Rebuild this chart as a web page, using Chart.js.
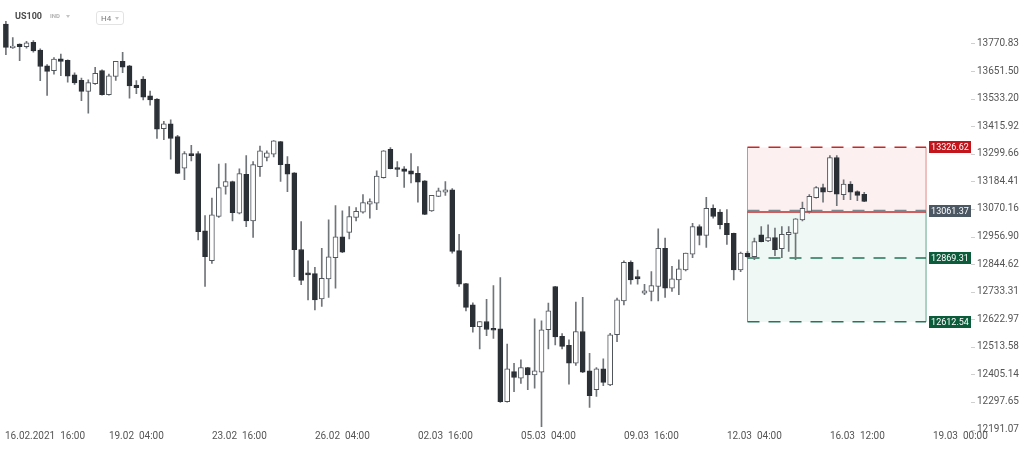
<!DOCTYPE html>
<html>
<head>
<meta charset="utf-8">
<title>US100 H4</title>
<script src="https://cdn.jsdelivr.net/npm/chart.js@4.4.1/dist/chart.umd.min.js"></script>
<style>
  html, body { margin: 0; padding: 0; background: #fff; }
  .wrap { position: relative; width: 1024px; height: 450px; font-family: Roboto, 'Noto Sans', sans-serif; }
  canvas { display: block; }
  .sym { position: absolute; left: 15px; top: 10px; font-size: 9px; font-weight: 700; color: #4a4a4a; line-height: 12px; }
  .ind { position: absolute; left: 50px; top: 12px; font-size: 6px; font-weight: 700; color: #b3b3b3; line-height: 8px; }
  .caret { position: absolute; width: 0; height: 0; border-left: 2.5px solid transparent; border-right: 2.5px solid transparent; border-top: 3px solid #c4c4c4; }
  .tf { position: absolute; left: 96px; top: 11px; width: 28px; height: 14px; box-sizing: border-box; border: 1px solid #e3e3e3; border-radius: 3px; }
  .tf span { position: absolute; left: 4px; top: 1px; font-size: 8px; color: #777; line-height: 11px; }
</style>
</head>
<body>
<div class="wrap">
  <canvas id="chart" width="1024" height="450"></canvas>
  <div class="sym">US100</div>
  <div class="ind">IND</div>
  <div class="caret" style="left:66px;top:15px"></div>
  <div class="tf"><span>H4</span><div class="caret" style="left:18px;top:5px"></div></div>
</div>
<script>
// candles, oldest first (H4)
const opens = [13855, 13752, 13768, 13757, 13776, 13742, 13674, 13653, 13704, 13698,
  13635, 13612, 13564, 13597, 13654, 13550, 13628, 13693, 13674, 13591,
  13617, 13545, 13531, 13406, 13426, 13372, 13239, 13301, 13301, 12980,
  12858, 13039, 13163, 13184, 13053, 13214, 13021, 13246, 13284, 13298,
  13351, 13256, 13220, 12904, 12809, 12806, 12704, 12785, 12871, 12956,
  12974, 13035, 13057, 13090, 13094, 13200, 13318, 13242, 13237, 13228,
  13218, 13187, 13062, 13122, 13139, 13149, 12899, 12766, 12680, 12593,
  12614, 12587, 12585, 12299, 12416, 12390, 12432, 12403, 12414, 12581,
  12754, 12555, 12519, 12449, 12574, 12419, 12345, 12427, 12364, 12562,
  12696, 12852, 12794, 12727, 12734, 12754, 12909, 12747, 12781, 12821,
  12885, 12998, 12961, 13073, 13057, 13011, 12970, 12821, 12889, 12875,
  12964, 12939, 12953, 12907, 12964, 12970, 13025, 13060, 13117, 13159,
  13142, 13284, 13129, 13173, 13142, 13131];
const highs = [13867, 13797, 13769, 13780, 13783, 13748, 13679, 13710, 13725, 13700,
  13644, 13621, 13614, 13668, 13657, 13639, 13694, 13732, 13676, 13611,
  13628, 13565, 13533, 13437, 13443, 13377, 13309, 13335, 13309, 13043,
  13115, 13256, 13259, 13186, 13237, 13292, 13267, 13332, 13312, 13355,
  13352, 13288, 13221, 13018, 12858, 12831, 12909, 13025, 13084, 13062,
  13080, 13076, 13129, 13112, 13228, 13313, 13326, 13267, 13246, 13301,
  13246, 13188, 13126, 13156, 13184, 13154, 12966, 12767, 12688, 12614,
  12702, 12758, 12790, 12524, 12448, 12462, 12433, 12625, 12617, 12687,
  12755, 12566, 12541, 12691, 12710, 12488, 12432, 12466, 12567, 12707,
  12858, 12858, 12820, 12763, 12814, 12988, 12950, 12835, 12862, 12889,
  13011, 13005, 13118, 13087, 13067, 13067, 12971, 12893, 12896, 12950,
  12998, 13005, 12991, 12998, 12998, 13030, 13098, 13129, 13163, 13173,
  13292, 13292, 13191, 13184, 13145, 13139];
const lows = [13722, 13749, 13696, 13751, 13733, 13610, 13547, 13638, 13632, 13604,
  13594, 13524, 13471, 13594, 13548, 13548, 13611, 13645, 13535, 13554,
  13528, 13505, 13364, 13359, 13277, 13216, 13191, 13270, 12943, 12754,
  12847, 13035, 13131, 13021, 13050, 12997, 12953, 13205, 13270, 13287,
  13184, 13142, 12794, 12761, 12700, 12660, 12674, 12710, 12747, 12891,
  12947, 13021, 13053, 13032, 13067, 13198, 13236, 13204, 13159, 13178,
  13098, 13046, 13060, 13121, 13126, 12889, 12754, 12656, 12571, 12505,
  12558, 12547, 12296, 12297, 12338, 12370, 12345, 12351, 12202, 12505,
  12521, 12505, 12367, 12440, 12412, 12276, 12319, 12361, 12361, 12534,
  12680, 12763, 12763, 12721, 12696, 12696, 12710, 12734, 12721, 12817,
  12871, 12923, 12912, 13032, 12988, 12925, 12781, 12814, 12871, 12862,
  12935, 12936, 12879, 12871, 12896, 12862, 13021, 13053, 13115, 13098,
  13141, 13084, 13108, 13108, 13104, 13100];
const closes = [13754, 13760, 13757, 13774, 13739, 13671, 13650, 13703, 13693, 13629,
  13601, 13564, 13602, 13642, 13550, 13631, 13693, 13668, 13588, 13580,
  13539, 13528, 13403, 13426, 13364, 13218, 13301, 13292, 12977, 12875,
  13046, 13159, 13184, 13055, 13217, 13021, 13254, 13312, 13304, 13354,
  13254, 13214, 12903, 12779, 12801, 12700, 12787, 12874, 12956, 12893,
  13039, 13060, 13096, 13101, 13206, 13312, 13237, 13234, 13226, 13214,
  13181, 13048, 13126, 13145, 13149, 12896, 12763, 12670, 12593, 12614,
  12582, 12579, 12299, 12427, 12393, 12432, 12403, 12419, 12581, 12656,
  12553, 12515, 12449, 12574, 12414, 12322, 12427, 12374, 12561, 12700,
  12852, 12781, 12785, 12737, 12758, 12909, 12747, 12785, 12825, 12889,
  12998, 12961, 13073, 13039, 13005, 12964, 12821, 12889, 12875, 12936,
  12936, 12953, 12903, 12966, 12974, 13029, 13073, 13122, 13159, 13139,
  13284, 13131, 13173, 13139, 13126, 13101];

// time axis: one slot per bar, a label every 15 bars
const slotCount = 134;
const xTickText = ['16.02.2021  16:00', '19.02  04:00', '23.02  16:00', '26.02  04:00', '02.03  16:00',
  '05.03  04:00', '09.03  16:00', '12.03  04:00', '16.03  12:00', '19.03  00:00'];
const xTickAt = [4, 19, 34, 49, 64, 79, 94, 109, 124, 139];

// price axis
const yTicks = [13770.83, 13651.50, 13533.20, 13415.92, 13299.66, 13184.41, 13070.16, 12956.90,
  12844.62, 12733.31, 12622.97, 12513.58, 12405.14, 12297.65, 12191.07];
const yMin = 12189.2;
const yMax = 13961.2;

// position tool: take profit, entry, stop, target
const levelValues = [13326.62, 13061.37, 12869.31, 12612.54];
const levelColors = ['#c2161c', '#4b5763', '#0c5c3c', '#0c5c3c'];
const zoneFrom = 108;
const zoneTo = 134;

const up = closes.map((c, i) => c >= opens[i]);
const bodyFill = up.map(u => u ? '#ffffff' : '#2b3036');
const bodyLine = up.map(u => u ? '#50565c' : '#2b3036');

function hLine(ctx, x0, x1, y, color, width, dash) {
  ctx.save();
  ctx.strokeStyle = color;
  ctx.lineWidth = width;
  ctx.setLineDash(dash || []);
  ctx.beginPath();
  ctx.moveTo(x0, y);
  ctx.lineTo(x1, y);
  ctx.stroke();
  ctx.restore();
}

function vLine(ctx, x, y0, y1, color) {
  ctx.save();
  ctx.strokeStyle = color;
  ctx.lineWidth = 1;
  ctx.beginPath();
  ctx.moveTo(x, y0);
  ctx.lineTo(x, y1);
  ctx.stroke();
  ctx.restore();
}

const overlay = {
  id: 'overlay',
  beforeDatasetsDraw(chart) {
    const {ctx} = chart;
    const x = chart.scales.x, y = chart.scales.y;
    const left = x.getPixelForValue(zoneFrom);
    const right = x.getPixelForValue(zoneTo);
    const yTop = y.getPixelForValue(levelValues[0]);
    const yMid = y.getPixelForValue(levelValues[1]);
    const yStop = y.getPixelForValue(levelValues[2]);
    const yBot = y.getPixelForValue(levelValues[3]);
    ctx.save();
    ctx.fillStyle = 'rgba(226, 70, 70, 0.08)';
    ctx.fillRect(left, yTop, right - left, yMid - yTop);
    ctx.fillStyle = 'rgba(30, 150, 105, 0.07)';
    ctx.fillRect(left, yMid, right - left, yBot - yMid);
    ctx.restore();
    vLine(ctx, left, yTop, yMid, '#e58585');
    vLine(ctx, right, yTop, yMid, '#e58585');
    vLine(ctx, left, yMid, yBot, '#62a88c');
    vLine(ctx, right, yMid, yBot, '#62a88c');
    hLine(ctx, left, right, yTop, '#c62828', 1.5, [12, 9]);
    hLine(ctx, left, right, yMid + 1, '#c62828', 1.5);
    hLine(ctx, left, right, yMid - 0.5, '#7d878f', 1.5, [12, 9]);
    hLine(ctx, left, right, yStop, '#22765a', 1.5, [12, 9]);
    hLine(ctx, left, right, yBot, '#22765a', 1.5, [12, 9]);
  },
  afterDraw(chart) {
    const {ctx} = chart;
    const x = chart.scales.x, y = chart.scales.y;
    ctx.save();
    // time labels
    ctx.font = '10px Roboto';
    ctx.fillStyle = '#555';
    ctx.textBaseline = 'middle';
    ctx.textAlign = 'left';
    xTickAt.forEach((idx, i) => {
      const w = ctx.measureText(xTickText[i]).width;
      const px = Math.max(x.getPixelForValue(idx) - w / 2, 5);
      ctx.fillText(xTickText[i], px, 436);
    });
    // short tick marks next to price labels
    ctx.strokeStyle = '#cfcfcf';
    ctx.lineWidth = 1;
    yTicks.forEach(v => {
      const py = Math.round(y.getPixelForValue(v)) + 0.5;
      ctx.beginPath();
      ctx.moveTo(971, py);
      ctx.lineTo(975, py);
      ctx.stroke();
    });
    // level tags
    ctx.font = '9px Roboto';
    ctx.textAlign = 'center';
    levelValues.forEach((v, i) => {
      const py = y.getPixelForValue(v);
      ctx.fillStyle = levelColors[i];
      ctx.fillRect(929, Math.round(py) - 6, 42, 12);
      ctx.fillStyle = '#ffffff';
      ctx.fillText(v.toFixed(2), 950, Math.round(py) + 0.5);
    });
    ctx.restore();
  }
};

new Chart(document.getElementById('chart'), {
  type: 'bar',
  data: {
    labels: Array.from({length: slotCount}, (_, i) => String(i)),
    datasets: [
      {
        label: 'body',
        data: opens.map((o, i) => [o, closes[i]]),
        backgroundColor: bodyFill,
        borderColor: bodyLine,
        borderWidth: 1,
        borderSkipped: false,
        barThickness: 5,
        minBarLength: 1,
        grouped: false,
        order: 0
      },
      {
        label: 'wick',
        data: lows.map((l, i) => [l, highs[i]]),
        backgroundColor: '#70757a',
        barThickness: 1,
        grouped: false,
        order: 1
      }
    ]
  },
  options: {
    responsive: false,
    devicePixelRatio: 1,
    animation: false,
    layout: {padding: {left: 2.47, right: 0, top: 0, bottom: 20}},
    plugins: {legend: {display: false}, tooltip: {enabled: false}},
    scales: {
      x: {display: false},
      y: {
        type: 'logarithmic',
        position: 'right',
        bounds: 'data',
        min: yMin,
        max: yMax,
        grid: {display: false, drawTicks: true, tickLength: 54.4},
        border: {display: false},
        ticks: {
          autoSkip: false,
          padding: 0,
          color: '#555',
          font: {family: 'Roboto', size: 10},
          callback: v => Number(v).toFixed(2)
        },
        afterBuildTicks(scale) {
          scale.ticks = yTicks.map(v => ({value: v}));
        },
        afterFit(scale) {
          scale.width = 101.4;
          scale.paddingTop = 0;
          scale.paddingBottom = 0;
        }
      }
    }
  },
  plugins: [overlay]
});
</script>
</body>
</html>
